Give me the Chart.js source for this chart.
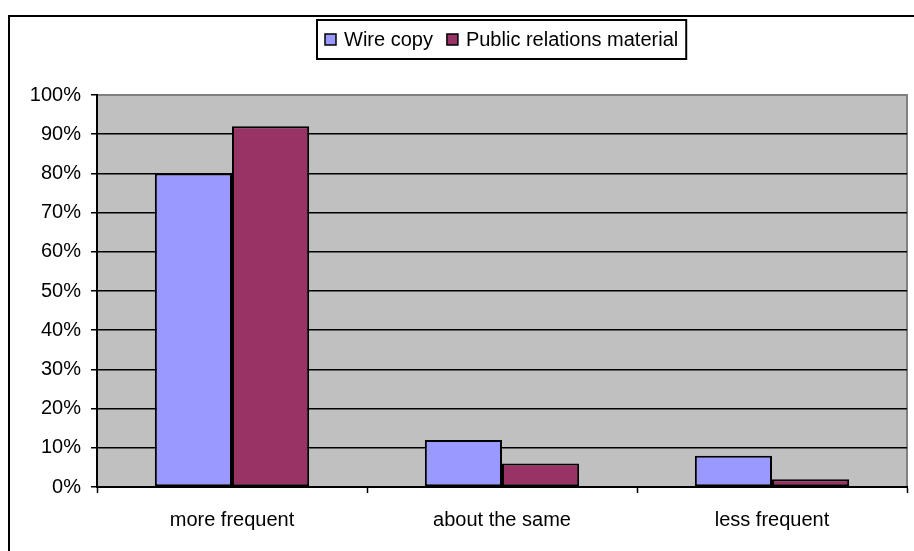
<!DOCTYPE html>
<html>
<head>
<meta charset="utf-8">
<script src="https://cdn.jsdelivr.net/npm/chart.js@4.4.1/dist/chart.umd.min.js"></script>
<style>
  html, body { margin: 0; padding: 0; background: #fff; }
  #wrap { width: 914px; height: 551px; position: relative; }
</style>
</head>
<body>
<div id="wrap"><canvas id="chart" width="914" height="551"></canvas></div>
<script>
// Source frequency compared with earlier periods
const categories = ['more frequent', 'about the same', 'less frequent'];
const wireCopy = [80, 12, 8];
const publicRelations = [92, 6, 2];
const seriesNames = ['Wire copy', 'Public relations material'];
const seriesColors = ['#9999FF', '#993366'];

const FONT = '"Liberation Sans", Arial, sans-serif';
const FONT_SIZE = 20;

// White page, frame lines, grey plot background
const backdrop = {
  id: 'backdrop',
  beforeDraw(chart) {
    const { ctx, chartArea: a } = chart;
    ctx.save();
    ctx.fillStyle = '#fff';
    ctx.fillRect(0, 0, chart.width, chart.height);
    ctx.strokeStyle = '#000';
    ctx.lineWidth = 2;
    ctx.beginPath();
    ctx.moveTo(9, chart.height + 2);
    ctx.lineTo(9, 16);
    ctx.lineTo(chart.width + 2, 16);
    ctx.stroke();
    ctx.fillStyle = '#C0C0C0';
    ctx.fillRect(a.left, a.top, a.right - a.left, a.bottom - a.top);
    ctx.strokeStyle = '#808080';
    ctx.lineWidth = 2;
    ctx.beginPath();
    ctx.moveTo(a.left, a.top);
    ctx.lineTo(a.right, a.top);
    ctx.lineTo(a.right, a.bottom);
    ctx.stroke();
    ctx.restore();
  }
};

// Boxed legend centred over the plot area
const boxedLegend = {
  id: 'boxedLegend',
  afterDraw(chart) {
    const { ctx, chartArea: a } = chart;
    const ds = chart.data.datasets;
    ctx.save();
    ctx.font = FONT_SIZE + 'px ' + FONT;
    const pad = 8, mark = 11, gap = 8, between = 14;
    const widths = ds.map(d => ctx.measureText(d.label).width);
    let total = pad * 2;
    widths.forEach((w, i) => { total += mark + gap + w + (i < ds.length - 1 ? between : 0); });
    const boxH = 39, top = 20;
    const left = Math.round((a.left + a.right) / 2 - total / 2);
    ctx.strokeStyle = '#000';
    ctx.lineWidth = 2;
    ctx.fillStyle = '#fff';
    ctx.fillRect(left, top, total, boxH);
    ctx.strokeRect(left, top, total, boxH);
    let x = left + pad;
    const cy = top + boxH / 2;
    ds.forEach((d, i) => {
      ctx.fillStyle = d.backgroundColor;
      ctx.fillRect(x, cy - mark / 2, mark, mark);
      ctx.lineWidth = 1.5;
      ctx.strokeStyle = '#000';
      ctx.strokeRect(x, cy - mark / 2, mark, mark);
      x += mark + gap;
      ctx.fillStyle = '#000';
      ctx.textBaseline = 'middle';
      ctx.textAlign = 'left';
      ctx.fillText(d.label, x, cy + 1);
      x += widths[i] + between;
    });
    ctx.restore();
  }
};

new Chart(document.getElementById('chart'), {
  type: 'bar',
  data: {
    labels: categories,
    datasets: [
      { label: seriesNames[0], data: wireCopy, backgroundColor: seriesColors[0] },
      { label: seriesNames[1], data: publicRelations, backgroundColor: seriesColors[1] }
    ]
  },
  options: {
    responsive: false,
    animation: false,
    devicePixelRatio: 1,
    layout: { padding: { left: 0, top: 95, right: 7, bottom: 0 } },
    datasets: {
      bar: {
        barPercentage: 1,
        categoryPercentage: 2 / 3.5,
        borderColor: '#000',
        borderWidth: 2,
        borderSkipped: false
      }
    },
    plugins: {
      legend: { display: false },
      tooltip: { enabled: false }
    },
    scales: {
      x: {
        offset: true,
        afterFit(scale) { scale.height = 64; },
        grid: {
          offset: true,
          drawOnChartArea: false,
          drawTicks: true,
          tickLength: 6,
          tickColor: '#000',
          tickWidth: 1.5
        },
        border: { display: true, color: '#000', width: 2 },
        ticks: {
          color: '#000',
          padding: 15,
          maxRotation: 0,
          font: { family: FONT, size: FONT_SIZE }
        }
      },
      y: {
        min: 0,
        max: 100,
        afterFit(scale) { scale.width = 97; },
        grid: {
          color: ctx => (ctx.tick && ctx.tick.value === 100) ? '#808080' : (ctx.tick && ctx.tick.value === 0 ? 'rgba(0,0,0,0)' : '#000'),
          lineWidth: 1.5,
          drawTicks: true,
          tickLength: 6,
          tickColor: '#000',
          tickWidth: 1.5
        },
        border: { display: true, color: '#000', width: 2 },
        ticks: {
          stepSize: 10,
          color: '#000',
          padding: 10,
          font: { family: FONT, size: FONT_SIZE },
          callback: v => v + '%'
        }
      }
    }
  },
  plugins: [backdrop, boxedLegend]
});
</script>
</body>
</html>
